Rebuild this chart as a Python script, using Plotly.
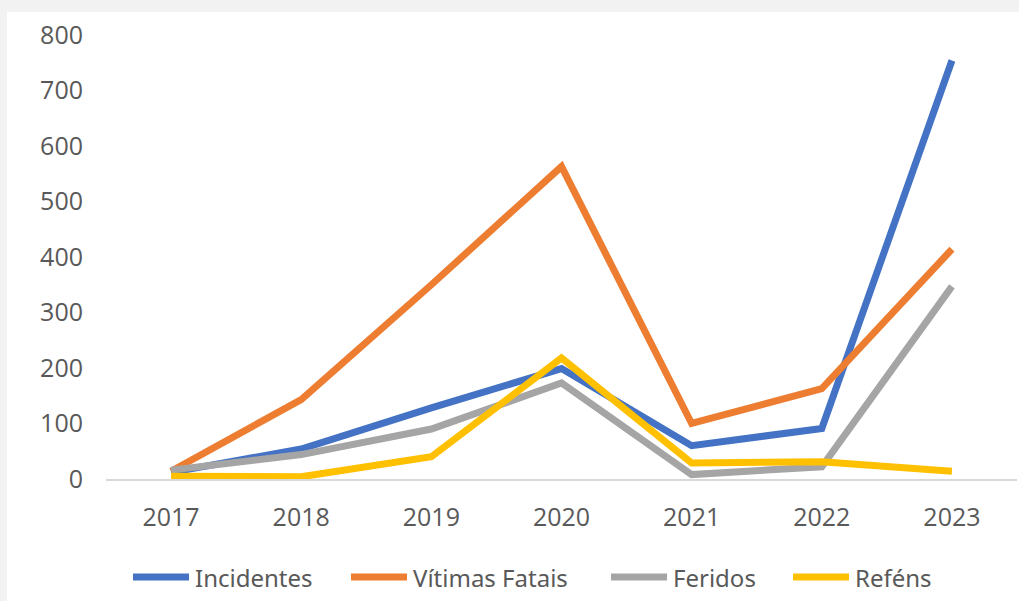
import plotly.graph_objects as go

years = ["2017", "2018", "2019", "2020", "2021", "2022", "2023"]
incidentes = [12, 54, 128, 199, 60, 91, 754]
vitimas_fatais = [14, 143, 350, 563, 100, 163, 414]
feridos = [16, 44, 90, 173, 8, 22, 347]
refens = [5, 4, 40, 218, 29, 31, 14]
y_ticks = [0, 100, 200, 300, 400, 500, 600, 700, 800]

names = ["Incidentes", "Vítimas Fatais", "Feridos", "Reféns"]
values = [incidentes, vitimas_fatais, feridos, refens]
colors = ["#4472C4", "#ED7D31", "#A5A5A5", "#FFC000"]

W, H = 1019, 601
ml, mr, mt, mb = 106, 2, 35, 122
pw, ph = W - ml - mr, H - mt - mb


def px_x(p):
    return (p - ml) / pw


def px_y(p):
    return (H - mb - p) / ph


fig = go.Figure()
for name, vals, color in zip(names, values, colors):
    fig.add_trace(go.Scatter(
        x=years, y=vals, name=name, mode="lines",
        line=dict(color=color, width=7, shape="linear"),
    ))

# legend layout (pixel positions of each legend sample start)
legend_starts = [130, 348, 608, 790]
legend_y = 577
shapes = [dict(
    type="rect", xref="paper", yref="paper", layer="below",
    x0=px_x(7), x1=px_x(W + 5), y0=px_y(H + 5), y1=px_y(12),
    fillcolor="white", line=dict(width=0),
)]
annotations = []
for name, color, sx in zip(names, colors, legend_starts):
    shapes.append(dict(
        type="line", xref="paper", yref="paper",
        x0=px_x(sx + 3), x1=px_x(sx + 59), y0=px_y(legend_y), y1=px_y(legend_y),
        line=dict(color=color, width=7),
    ))
    annotations.append(dict(
        text=name, xref="paper", yref="paper", showarrow=False,
        x=px_x(sx + 63), y=px_y(legend_y), xanchor="left", yanchor="middle",
        font=dict(family="Noto Sans, Open Sans, sans-serif", size=24, color="#595959"),
    ))

fig.update_layout(
    width=W, height=H,
    margin=dict(l=ml, r=mr, t=mt, b=mb),
    paper_bgcolor="#f2f2f2",
    plot_bgcolor="rgba(0,0,0,0)",
    font=dict(family="Open Sans, Noto Sans, sans-serif", color="#595959", size=25),
    showlegend=False,
    shapes=shapes,
    annotations=annotations,
)
fig.update_xaxes(
    type="category", range=[-0.5, 6.5], showgrid=False,
    showline=True, linecolor="#d9d9d9", linewidth=2,
    ticks="", ticklabelstandoff=15, zeroline=False,
)
fig.update_yaxes(
    range=[0, 800], tickvals=y_ticks, showgrid=False, zeroline=False,
    showline=False, ticks="", ticklabelstandoff=22,
)

fig.write_html("out.html", config={"displayModeBar": False},
               post_script="document.body.style.margin='0';")
